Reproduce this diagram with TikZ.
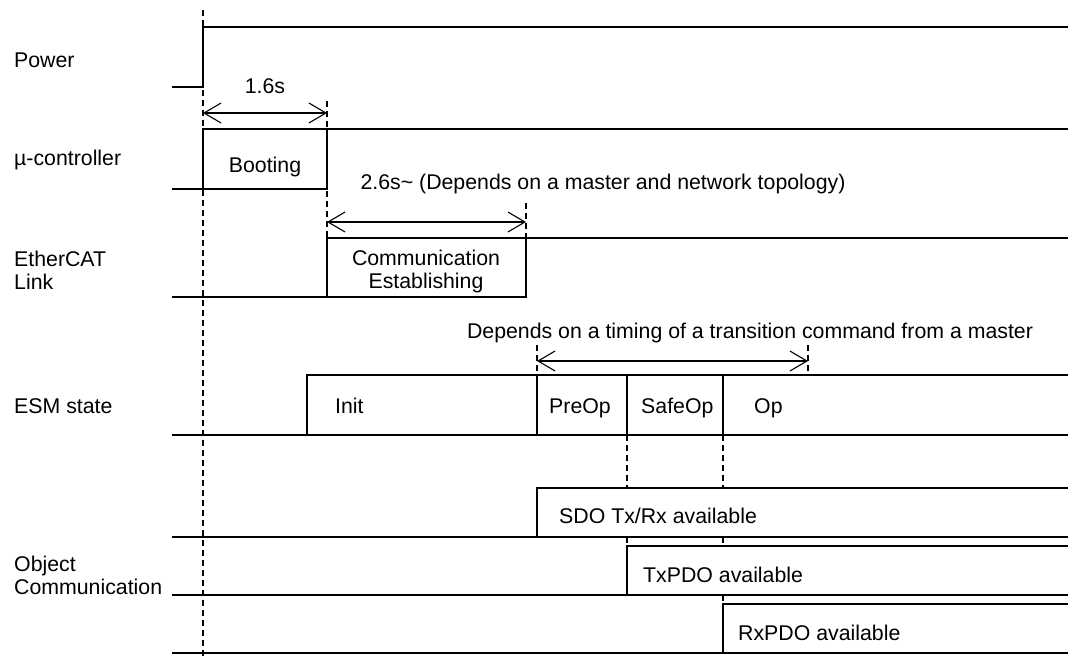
\documentclass[tikz,border=0pt]{standalone}
\usepackage{fontspec}
\setmainfont{Liberation Sans}
\usetikzlibrary{arrows.meta}
\begin{document}
\begin{tikzpicture}[x=1pt,y=-1pt,
  wave/.style={line width=1.1pt, line cap=rect},
  guide/.style={line width=1.1pt, dash pattern=on 6pt off 4pt},
  span/.style={line width=1.1pt, {Straight Barb[length=17pt,width=20pt,line width=1.1pt]}-{Straight Barb[length=17pt,width=20pt,line width=1.1pt]}},
  lbl/.style={font=\fontsize{21.3}{24}\selectfont, inner sep=0pt, anchor=base west, align=left},
  txt/.style={font=\fontsize{21.3}{24}\selectfont, inner sep=0pt, anchor=base},
  every node/.style={text=black}]
\useasboundingbox (0,0) rectangle (1068,657);

% row labels
\node[lbl] (lpower) at (14,67) {Power};
\node[lbl] (lmu) at (14,165) {µ-controller};
\node[lbl] (leth) at (14,266) {EtherCAT};
\node[lbl] (leth2) at (14,289) {Link};
\node[lbl] (lesm) at (14,413) {ESM state};
\node[lbl] (lobj) at (14,571) {Object};
\node[lbl] (lobj2) at (14,594) {Communication};

% guides (dashed)
\draw[guide] (203,10) -- (203,657);
\draw[guide] (327,101) -- (327,238);
\draw[guide] (526,203) -- (526,238);
\draw[guide] (537,345) -- (537,375);
\draw[guide] (808,345) -- (808,375);
\draw[guide] (627,435) -- (627,488);
\draw[guide] (627,537) -- (627,546);
\draw[guide] (723,435) -- (723,488);
\draw[guide] (723,537) -- (723,546);
\draw[guide] (723,595) -- (723,604);

% Power
\draw[wave] (173,87) -- (203,87) -- (203,27) -- (1068,27);
% micro-controller
\draw[wave] (173,189) -- (203,189) -- (203,129) -- (1068,129);
\draw[wave] (203,189) -- (327,189) -- (327,129);
\node[txt] (boot) at (265,172) {Booting};
% EtherCAT link
\draw[wave] (173,297) -- (526,297) -- (526,238);
\draw[wave] (327,297) -- (327,238) -- (1068,238);
\node[txt] (comm1) at (426,265) {Communication};
\node[txt] (comm2) at (426,288) {Establishing};
% ESM state
\draw[wave] (307,435) -- (307,375) -- (1068,375);
\draw[wave] (173,435) -- (1068,435);
\draw[wave] (537,375) -- (537,435);
\draw[wave] (627,375) -- (627,435);
\draw[wave] (723,375) -- (723,435);
\node[lbl] (init) at (335,413) {Init};
\node[lbl] (preop) at (549,413) {PreOp};
\node[lbl] (safeop) at (641,413) {SafeOp};
\node[lbl] (op) at (754,413) {Op};
% Object communication
\draw[wave] (537,537) -- (537,488) -- (1068,488);
\draw[wave] (173,537) -- (1068,537);
\node[lbl] (sdo) at (559,523) {SDO Tx/Rx available};
\draw[wave] (627,595) -- (627,546) -- (1068,546);
\draw[wave] (173,595) -- (1068,595);
\node[lbl] (txpdo) at (643,582) {TxPDO available};
\draw[wave] (723,653) -- (723,604) -- (1068,604);
\draw[wave] (173,653) -- (1068,653);
\node[lbl] (rxpdo) at (738,640) {RxPDO available};

% spans
\coordinate (a1) at (203,113);
\coordinate (b1) at (327,113);
\draw[span] (a1) -- (b1);
\node[txt] (d1) at (265,93) {1.6s};
\coordinate (a2) at (327,222);
\coordinate (b2) at (526,222);
\draw[span] (a2) -- (b2);
\node[txt] (d2) at (603,189) {2.6s\textasciitilde{} (Depends on a master and network topology)};
\coordinate (a3) at (537,361);
\coordinate (b3) at (808,361);
\draw[span] (a3) -- (b3);
\node[txt] (d3) at (750,338) {Depends on a timing of a transition command from a master};
\end{tikzpicture}
\end{document}
